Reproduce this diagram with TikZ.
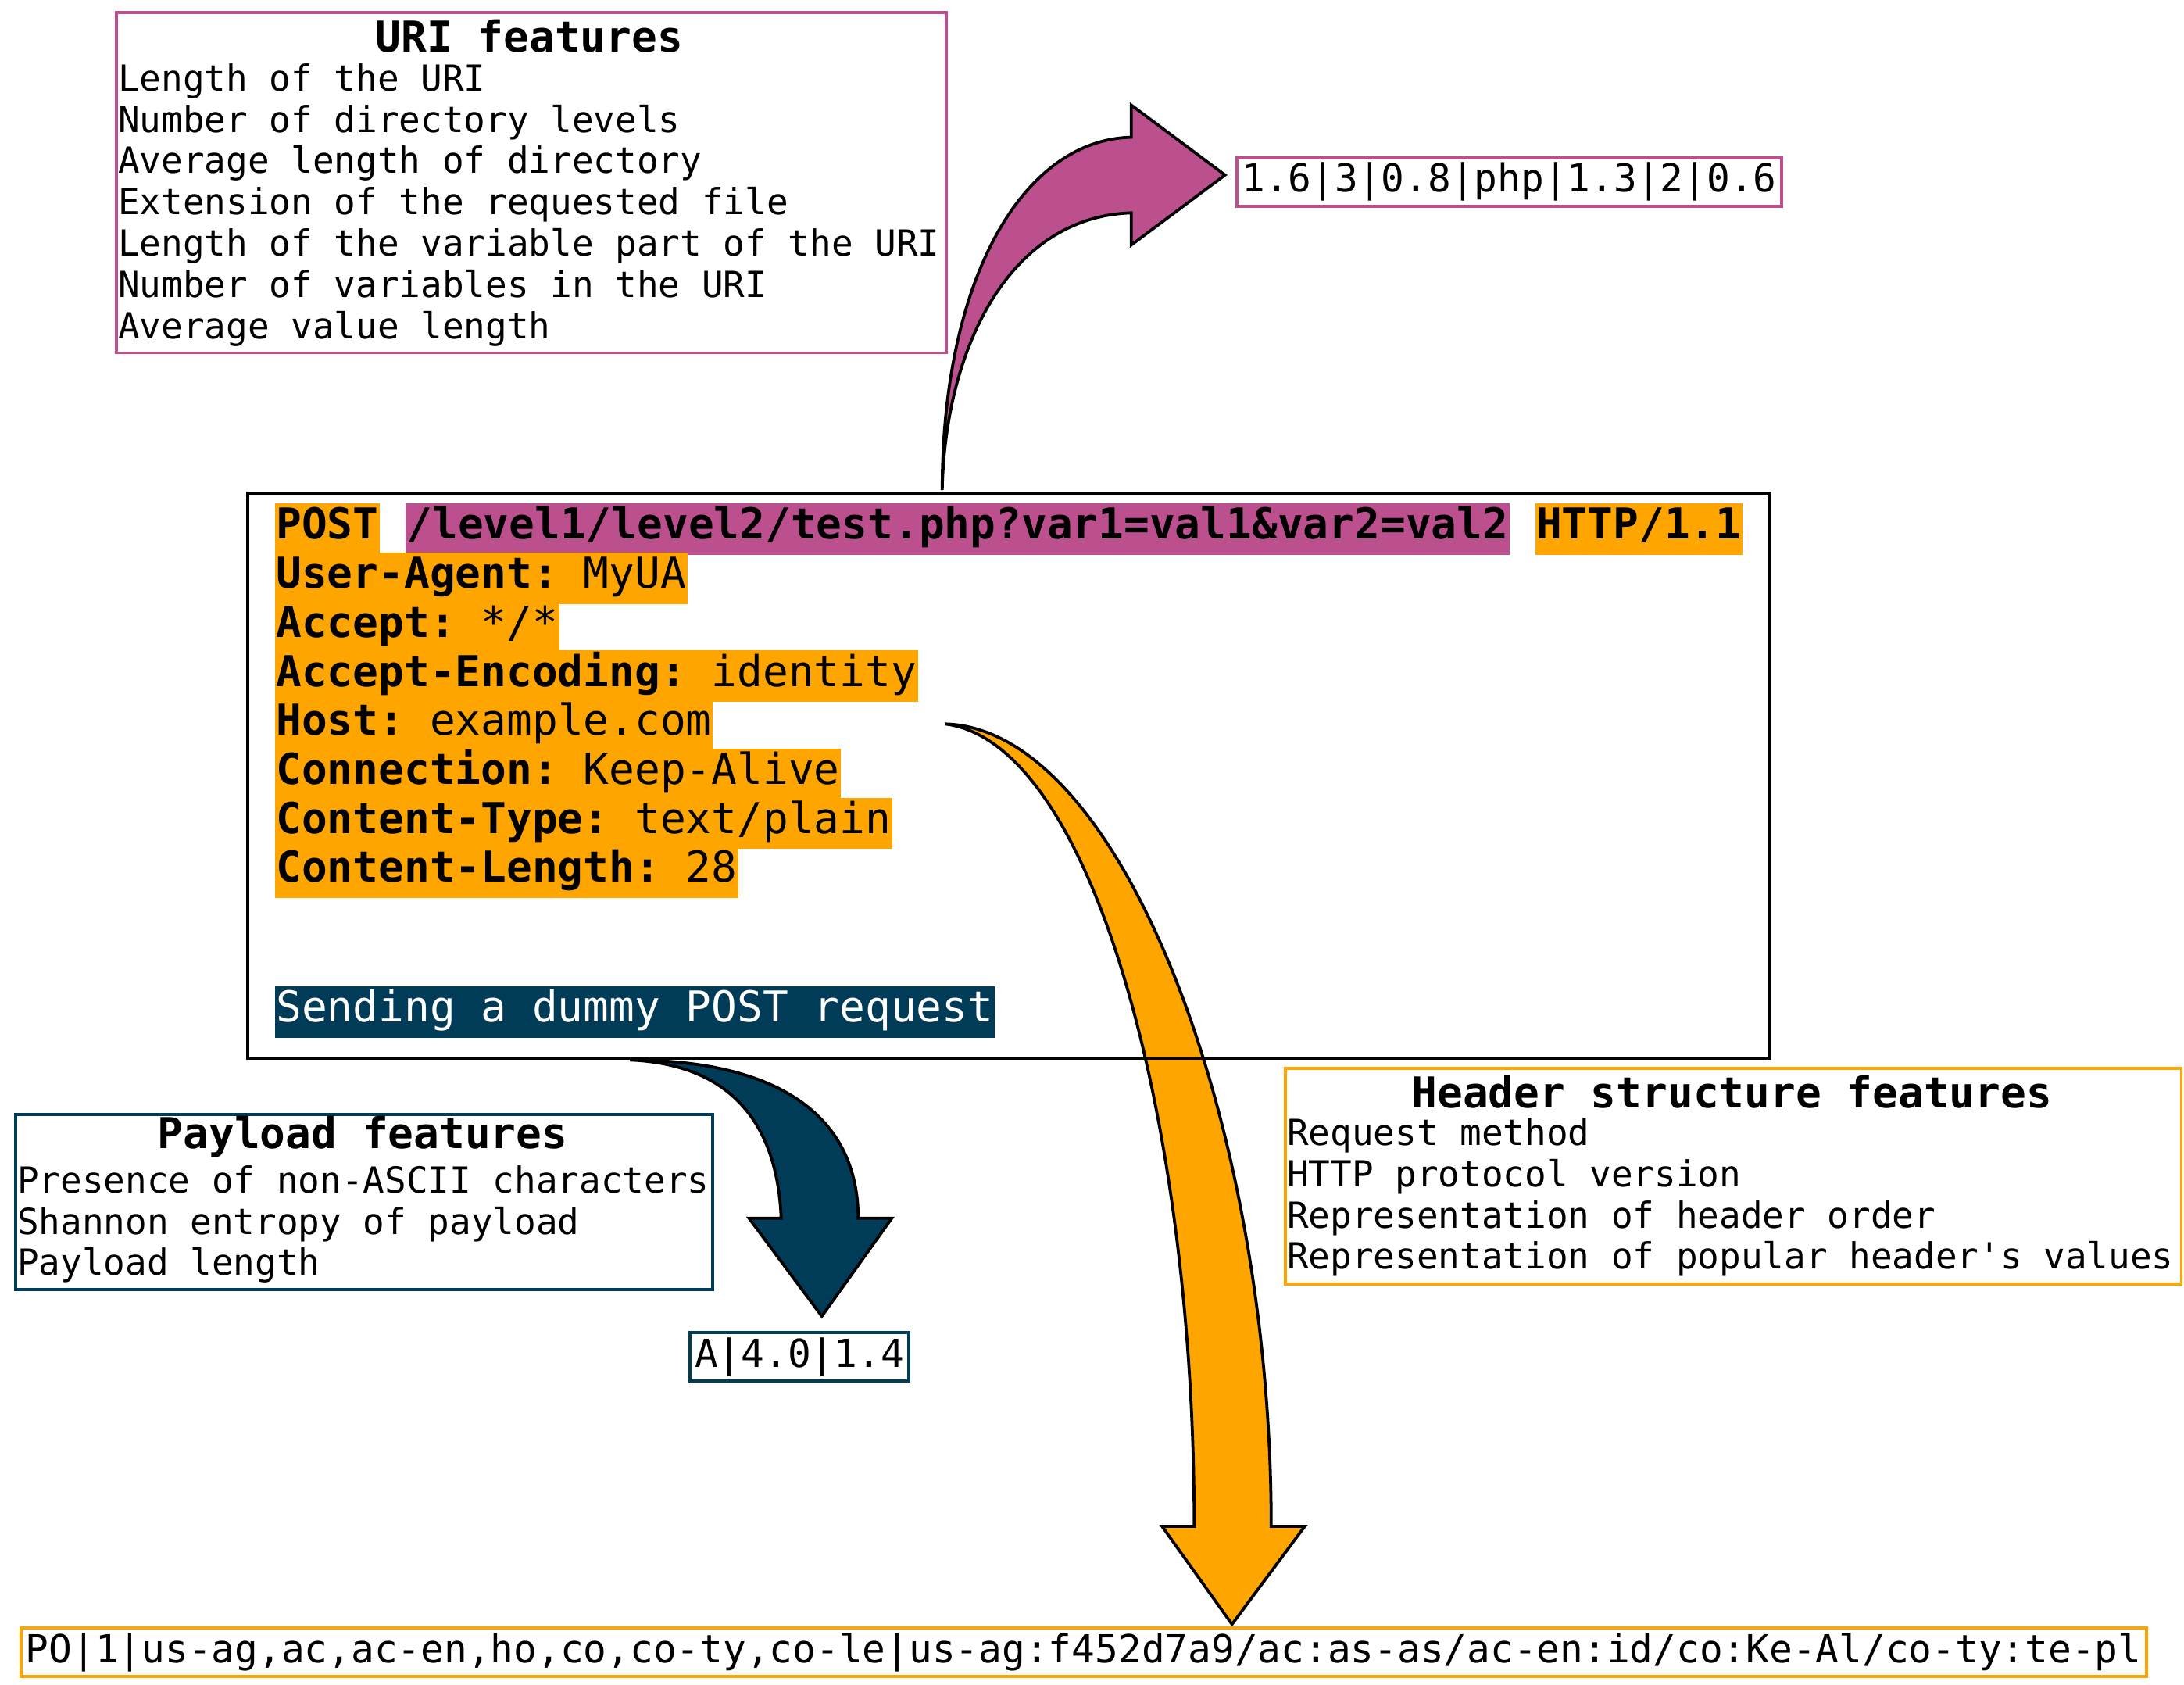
\documentclass[tikz,border=0pt]{standalone}
\usepackage{fontspec}
\setmonofont{DejaVu Sans Mono}
\usepackage{xcolor}
\definecolor{mag}{HTML}{BC4F8E}
\definecolor{org}{HTML}{FFA500}
\definecolor{nav}{HTML}{003B57}
\newcommand{\fsA}{\fontsize{14.6pt}{16.8pt}\selectfont\ttfamily}
\newcommand{\fsB}{\fontsize{17.3pt}{19.9pt}\selectfont\ttfamily}
\newcommand{\fsC}{\fontsize{15.7pt}{18pt}\selectfont\ttfamily}
\newcommand{\hlx}[2]{{\setlength{\fboxsep}{0.5pt}\colorbox{#1}{\strut #2}}}
\begin{document}
\begin{tikzpicture}[x=0.02cm,y=-0.02cm,
  box/.style={draw=#1,line width=1.2pt,anchor=north west,inner sep=0pt},
  lst/.style={anchor=north west,inner sep=0pt,align=left,font=\fsA},
  ttl/.style={anchor=center,inner sep=0pt,font=\fsB\bfseries},
  res/.style={draw=#1,line width=1.2pt,inner sep=2pt,font=\fsC},
  ln/.style={anchor=west,inner sep=0pt,font=\fsB},
  arr/.style={fill=#1,draw=black,line width=1.2pt}]
\useasboundingbox (0,0) rectangle (1560,1203);
% arrows
\path[arr=mag] (673,350) .. controls (673,200) and (730,100) .. (808,98) -- (808,75) -- (875,125) -- (808,175) -- (808,152) .. controls (720,155) and (675,250) .. (673,350);
\path[arr=org] (675,517) .. controls (800,520) and (908,800) .. (908,1090) -- (932,1090) -- (880,1160) -- (830,1090) -- (853,1090) .. controls (853,800) and (780,530) .. (675,517);
\path[arr=nav] (450,757) .. controls (560,757) and (613,800) .. (613,870) -- (637,870) -- (587,940) -- (535,870) -- (558,870) .. controls (555,800) and (520,760) .. (450,757);
% URI box
\node[box=mag,minimum width=593*0.02cm,minimum height=243*0.02cm] (uri) at (82,8) {};
\node[ttl] (urit) at (378,26) {URI features};
\node[lst] (uril) at (84,45) {Length of the URI\\Number of directory levels\\Average length of directory\\Extension of the requested file\\Length of the variable part of the URI\\Number of variables in the URI\\Average value length};
\node[res=mag] (urir) at (1078,130) {1.6|3|0.8|php|1.3|2|0.6};
% main box
\node[draw=black,line width=1.2pt,anchor=north west,minimum width=1087*0.02cm,minimum height=404*0.02cm,inner sep=0pt] (req) at (176,351) {};
\node[ln] (l1) at (196,378) {\hlx{org}{\textbf{POST}} \hlx{mag}{\textbf{/level1/level2/test.php?var1=val1\&var2=val2}} \hlx{org}{\textbf{HTTP/1.1}}};
\node[ln] (l2) at (196,413) {\hlx{org}{\textbf{User-Agent:} MyUA}};
\node[ln] (l3) at (196,448) {\hlx{org}{\textbf{Accept:} */*}};
\node[ln] (l4) at (196,483) {\hlx{org}{\textbf{Accept-Encoding:} identity}};
\node[ln] (l5) at (196,518) {\hlx{org}{\textbf{Host:} example.com}};
\node[ln] (l6) at (196,553) {\hlx{org}{\textbf{Connection:} Keep-Alive}};
\node[ln] (l7) at (196,588) {\hlx{org}{\textbf{Content-Type:} text/plain}};
\node[ln] (l8) at (196,623) {\hlx{org}{\textbf{Content-Length:} 28}};
\node[ln] (l9) at (196,723) {\hlx{nav}{\color{white}Sending a dummy POST request}};
% payload
\node[box=nav,minimum width=498*0.02cm,minimum height=125*0.02cm] (pay) at (10,795) {};
\node[ttl] (payt) at (259,812) {Payload features};
\node[lst] (payl) at (12,832) {Presence of non-ASCII characters\\Shannon entropy of payload\\Payload length};
\node[res=nav] (payr) at (571,969) {A|4.0|1.4};
% header
\node[box=org,minimum width=640*0.02cm,minimum height=154*0.02cm] (hdr) at (917,762) {};
\node[ttl] (hdrt) at (1237,780) {Header structure features};
\node[lst] (hdrl) at (919,798) {Request method\\HTTP protocol version\\Representation of header order\\Representation of popular header's values};
\node[res=org] (hdrr) at (774,1180) {PO|1|us-ag,ac,ac-en,ho,co,co-ty,co-le|us-ag:f452d7a9/ac:as-as/ac-en:id/co:Ke-Al/co-ty:te-pl};
\end{tikzpicture}
\end{document}
